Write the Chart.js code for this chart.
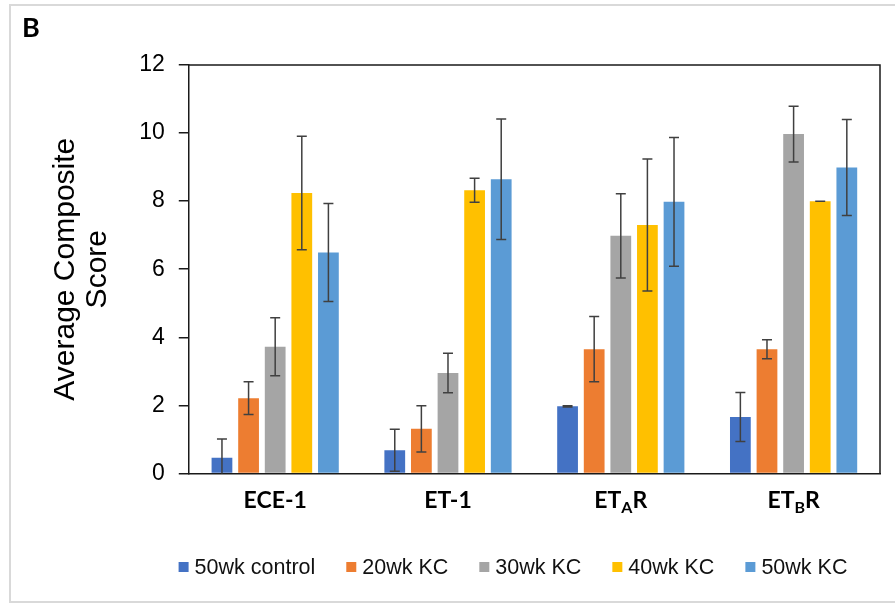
<!DOCTYPE html>
<html>
<head>
<meta charset="utf-8">
<script src="https://cdn.jsdelivr.net/npm/chart.js@4.4.1/dist/chart.umd.min.js"></script>
<style>
  html, body { margin: 0; padding: 0; background: #fff; }
  #wrap { position: relative; width: 895px; height: 605px; }
</style>
</head>
<body>
<div id="wrap"><canvas id="scoreChart"></canvas></div>
<script>
// categories ("_" marks the next character as subscript)
const categories = ['ECE-1', 'ET-1', 'ET_AR', 'ET_BR'];
const seriesNames = ['50wk control', '20wk KC', '30wk KC', '40wk KC', '50wk KC'];
const seriesColors = ['#4472C4', '#ED7D31', '#A5A5A5', '#FFC000', '#5B9BD5'];

const control50 = [0.46, 0.68, 1.97, 1.66];
const kc20 = [2.21, 1.31, 3.65, 3.65];
const kc30 = [3.72, 2.95, 6.98, 9.97];
const kc40 = [8.24, 8.32, 7.30, 8.00];
const kc50 = [6.49, 8.64, 7.98, 8.99];

const control50Err = [0.55, 0.62, 0.02, 0.72];
const kc20Err = [0.48, 0.68, 0.96, 0.28];
const kc30Err = [0.85, 0.58, 1.24, 0.82];
const kc40Err = [1.67, 0.35, 1.94, 0];
const kc50Err = [1.44, 1.77, 1.89, 1.41];

const yTicks = [0, 2, 4, 6, 8, 10, 12];

const values = [control50, kc20, kc30, kc40, kc50];
const errors = [control50Err, kc20Err, kc30Err, kc40Err, kc50Err];

// error bars drawn through the scales
const errorBars = {
  id: 'errorBars',
  afterDatasetsDraw(chart) {
    const ctx = chart.ctx;
    const y = chart.scales.y;
    ctx.save();
    ctx.strokeStyle = '#404040';
    ctx.lineWidth = 1.5;
    chart.data.datasets.forEach((ds, d) => {
      chart.getDatasetMeta(d).data.forEach((bar, i) => {
        const v = ds.data[i], e = errors[d][i];
        const low = v - e;
        const top = y.getPixelForValue(v + e);
        const bot = y.getPixelForValue(Math.max(0, low));
        ctx.beginPath();
        ctx.moveTo(bar.x, top); ctx.lineTo(bar.x, bot);
        ctx.moveTo(bar.x - 5, top); ctx.lineTo(bar.x + 5, top);
        if (low > 0) { ctx.moveTo(bar.x - 5, bot); ctx.lineTo(bar.x + 5, bot); }
        ctx.stroke();
      });
    });
    ctx.restore();
  }
};

// box, category labels with subscripts, legend, panel letter
const decorations = {
  id: 'decorations',
  beforeDraw(chart) {
    const ctx = chart.ctx;
    ctx.save();
    ctx.strokeStyle = '#d9d9d9';
    ctx.lineWidth = 2;
    ctx.strokeRect(10, 5, 900, 597);
    ctx.restore();
  },
  afterDraw(chart) {
    const ctx = chart.ctx;
    const a = chart.chartArea;
    ctx.save();
    // frame around plot
    ctx.strokeStyle = '#1a1a1a';
    ctx.lineWidth = 1.5;
    ctx.beginPath();
    ctx.moveTo(a.left, a.top); ctx.lineTo(a.right, a.top); ctx.lineTo(a.right, a.bottom);
    ctx.stroke();

    // panel letter
    ctx.fillStyle = '#000';
    ctx.font = 'bold 27px Lato, sans-serif';
    ctx.textBaseline = 'alphabetic';
    ctx.fillText('B', 22, 37);

    // category labels
    const xs = chart.scales.x;
    const mainFont = 'bold 23px Lato, sans-serif';
    const subFont = 'bold 16px Lato, sans-serif';
    const base = a.bottom + 35;
    categories.forEach((lab, i) => {
      const parts = [];
      const k = lab.indexOf('_');
      if (k < 0) parts.push([lab, false]);
      else {
        parts.push([lab.slice(0, k), false]);
        parts.push([lab.charAt(k + 1), true]);
        parts.push([lab.slice(k + 2), false]);
      }
      let w = 0;
      parts.forEach(p => { ctx.font = p[1] ? subFont : mainFont; w += ctx.measureText(p[0]).width; });
      let x = xs.getPixelForValue(i) - w / 2;
      parts.forEach(p => {
        ctx.font = p[1] ? subFont : mainFont;
        ctx.fillText(p[0], x, p[1] ? base + 5 : base);
        x += ctx.measureText(p[0]).width;
      });
    });

    // legend
    ctx.font = '21.5px "Liberation Sans", Arial, sans-serif';
    ctx.textBaseline = 'middle';
    const gap = 31, box = 10, pad = 6;
    let total = 0;
    chart.data.datasets.forEach((ds, d) => {
      total += box + pad + ctx.measureText(ds.label).width + (d ? gap : 0);
    });
    let lx = 513 - total / 2;
    const ly = 567;
    chart.data.datasets.forEach(ds => {
      ctx.fillStyle = ds.backgroundColor;
      ctx.fillRect(lx, ly - 5, box, box);
      ctx.fillStyle = '#111';
      ctx.fillText(ds.label, lx + box + pad, ly + 1);
      lx += box + pad + ctx.measureText(ds.label).width + gap;
    });
    ctx.restore();
  }
};

new Chart(document.getElementById('scoreChart'), {
  type: 'bar',
  data: {
    labels: categories,
    datasets: seriesNames.map((name, d) => ({
      label: name,
      data: values[d],
      backgroundColor: seriesColors[d],
      borderWidth: 0,
      categoryPercentage: 0.77,
      barPercentage: 0.78
    }))
  },
  options: {
    responsive: true,
    maintainAspectRatio: false,
    animation: false,
    layout: { padding: { left: 46, right: 15, top: 65, bottom: 70 } },
    plugins: {
      legend: { display: false },
      tooltip: { enabled: false }
    },
    scales: {
      x: {
        grid: { display: false },
        border: { display: true, color: '#1a1a1a', width: 1.5 },
        ticks: {
          color: 'transparent',
          padding: 13,
          font: { family: 'Lato', size: 23, weight: 'bold' },
          callback: (v, i) => categories[i].replace('_', '')
        }
      },
      y: {
        min: 0,
        max: 12,
        afterBuildTicks: s => { s.ticks = yTicks.map(v => ({ value: v })); },
        grid: { display: true, drawOnChartArea: false, drawTicks: true, tickLength: 10, color: '#1a1a1a', lineWidth: 1.5 },
        border: { display: true, color: '#1a1a1a', width: 1.5 },
        ticks: {
          color: '#000',
          padding: 14,
          font: { family: '"Liberation Sans", Arial, sans-serif', size: 23 }
        },
        title: {
          display: true,
          text: ['Average Composite', 'Score'],
          color: '#000',
          padding: { top: 4, bottom: 11 },
          font: { family: '"Liberation Sans", Arial, sans-serif', size: 30, lineHeight: 1.07 }
        }
      }
    }
  },
  plugins: [errorBars, decorations]
});
</script>
</body>
</html>
